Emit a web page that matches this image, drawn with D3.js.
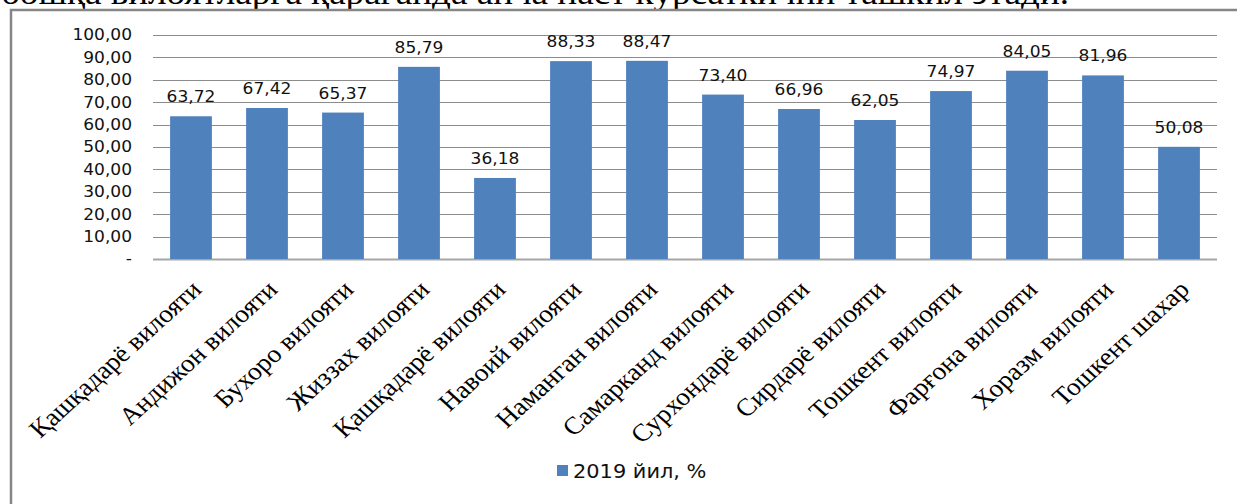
<!DOCTYPE html>
<html>
<head>
<meta charset="utf-8">
<script src="https://cdn.jsdelivr.net/npm/d3@7"></script>
<style>
html,body{margin:0;padding:0;background:#fff;}
svg{display:block;}
</style>
</head>
<body>
<svg id="chart" width="1237" height="504"></svg>
<script>
const categories = ["Қашқадарё вилояти","Андижон вилояти","Бухоро вилояти","Жиззах вилояти","Қашқадарё вилояти","Навоий вилояти","Наманган вилояти","Самарканд вилояти","Сурхондарё вилояти","Сирдарё вилояти","Тошкент вилояти","Фарғона вилояти","Хоразм вилояти","Тошкент шахар"];
const values = [63.72,67.42,65.37,85.79,36.18,88.33,88.47,73.40,66.96,62.05,74.97,84.05,81.96,50.08];
const tickValues = [0,10,20,30,40,50,60,70,80,90,100];
const seriesName = "2019 йил, %";
const headerText = "бошқа вилоятларга қараганда анча паст кўрсаткични ташкил этади.";

const svg = d3.select("#chart");
const fmt = v => v === 0 ? "-" : v.toFixed(2).replace(".", ",");
const SX = 1.1; // horizontal stretch seen in the reference

// header text cut off at top
svg.append("text")
  .attr("x", 1).attr("y", 4)
  .attr("font-family", "Liberation Serif, Times New Roman, serif")
  .attr("font-size", 33)
  .attr("textLength", 1068)
  .attr("lengthAdjust", "spacingAndGlyphs")
  .attr("fill", "#000")
  .text(headerText);

// chart frame
svg.append("rect")
  .attr("x", 11).attr("y", 10)
  .attr("width", 1300).attr("height", 600)
  .attr("fill", "#fff")
  .attr("stroke", "#868686").attr("stroke-width", 2.5);

const x = d3.scaleBand().domain(d3.range(categories.length)).range([153, 1217]).paddingInner(0.45).paddingOuter(0.225);
const y = d3.scaleLinear().domain([0, 100]).range([259, 35]);

// gridlines
svg.append("g").selectAll("line").data(tickValues).join("line")
  .attr("x1", 153).attr("x2", 1217)
  .attr("y1", d => Math.round(y(d)) + 0.5).attr("y2", d => Math.round(y(d)) + 0.5)
  .attr("stroke", d => d === 0 ? "#a6a6a6" : "#8c8c8c").attr("stroke-width", d => d === 0 ? 2 : 1);

// y axis labels
const yAxis = d3.axisLeft(y).tickValues(tickValues).tickFormat(fmt).tickSize(0).tickPadding(0);
const gy = svg.append("g").attr("transform", "translate(132,0)").call(yAxis);
gy.select(".domain").remove();
gy.selectAll("text")
  .attr("font-family", "DejaVu Sans, Verdana, sans-serif")
  .attr("font-size", 15.5)
  .attr("fill", "#111")
  .attr("transform", `scale(${SX},1)`);

// bars
svg.append("g").selectAll("rect").data(values).join("rect")
  .attr("x", (d, i) => x(i))
  .attr("width", x.bandwidth())
  .attr("y", d => y(d))
  .attr("height", d => y(0) - y(d))
  .attr("fill", "#4F81BD");

// value labels
svg.append("g").selectAll("text").data(values).join("text")
  .attr("transform", (d, i) => `translate(${x(i) + x.bandwidth() / 2},${y(d) - 14}) scale(${SX},1)`)
  .attr("text-anchor", "middle")
  .attr("font-family", "DejaVu Sans, Verdana, sans-serif")
  .attr("font-size", 15.5)
  .attr("fill", "#111")
  .text(fmt);

// category labels
svg.append("g").selectAll("text").data(categories).join("text")
  .attr("transform", (d, i) => `translate(${x(i) + x.bandwidth() / 2 + 12},291) scale(${SX},1) rotate(-45)`)
  .attr("text-anchor", "end")
  .attr("font-family", "Liberation Serif, Times New Roman, serif")
  .attr("font-size", 25)
  .attr("fill", "#000")
  .text(d => d);

// legend
const lg = svg.append("g");
lg.append("rect").attr("x", 557).attr("y", 465).attr("width", 11).attr("height", 11).attr("fill", "#4F81BD");
lg.append("text").attr("transform", `translate(573,478) scale(${SX},1)`)
  .attr("font-family", "DejaVu Sans, Verdana, sans-serif")
  .attr("font-size", 19)
  .attr("fill", "#111")
  .text(seriesName);
</script>
</body>
</html>
